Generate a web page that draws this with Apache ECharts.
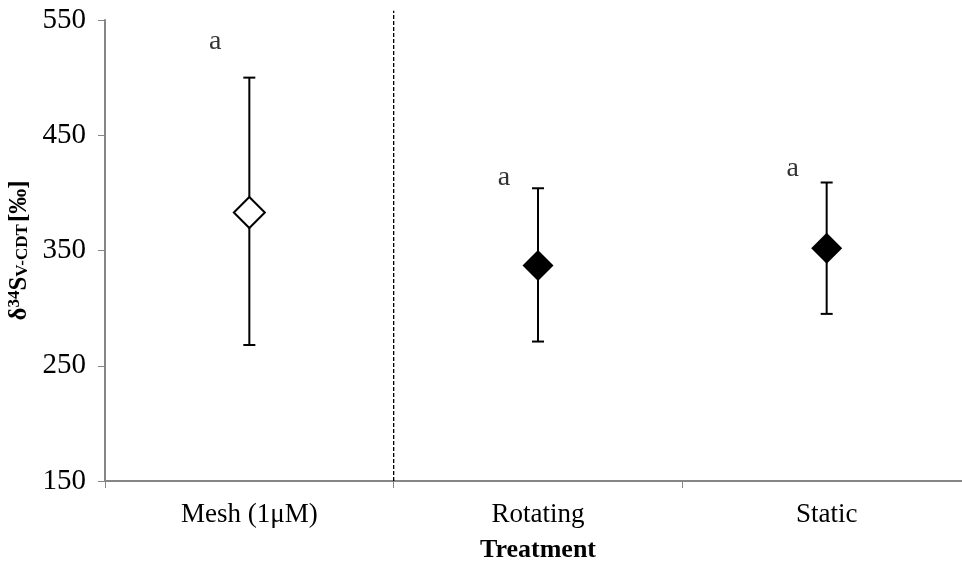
<!DOCTYPE html>
<html><head><meta charset="utf-8">
<script src="https://cdn.jsdelivr.net/npm/echarts@6/dist/echarts.min.js"></script>
<style>html,body{margin:0;padding:0;background:#fff}#c{width:962px;height:567px}</style>
</head><body><div id="c"></div>
<script>
const categories = ['Mesh (1μM)', 'Rotating', 'Static'];
const means = [383, 337, 352];
const upper = [500, 404, 409];
const lower = [268, 271, 295];
const letters = ['a', 'a', 'a'];
const letterY = [531, 413, 421];
const yTicks = [150, 250, 350, 450, 550];

const FONT = '"Liberation Serif", "Times New Roman", serif';

// sparse dotted pattern for the mesh marker
const pc = document.createElement('canvas');
pc.width = 8; pc.height = 8;
const pctx = pc.getContext('2d');
pctx.fillStyle = '#fff'; pctx.fillRect(0, 0, 8, 8);
pctx.fillStyle = '#444';
pctx.fillRect(1, 1, 2, 2);
pctx.fillRect(5, 5, 2, 2);

const chart = echarts.init(document.getElementById('c'), null, {renderer: 'canvas'});

const errData = categories.map((c, i) => [i, lower[i], upper[i]]);

chart.setOption({
  animation: false,
  backgroundColor: '#fff',
  grid: {left: 105, top: 20, width: 866, height: 461, containLabel: false, outerBoundsMode: 'none'},
  xAxis: [{
    type: 'category', data: categories, boundaryGap: true,
    axisLine: {onZero: false, lineStyle: {color: '#868686', width: 2}},
    axisTick: {show: true, length: 7, lineStyle: {color: '#868686', width: 1}},
    axisLabel: {fontFamily: FONT, fontSize: 27, color: '#000', margin: 20},
    name: 'Treatment', nameLocation: 'middle', nameGap: 56,
    nameTextStyle: {fontFamily: FONT, fontSize: 26, fontWeight: 'bold', color: '#000'}
  }, {
    type: 'value', min: -0.5, max: 2.5, show: false
  }],
  yAxis: {
    type: 'value', min: 150, max: 550, interval: 100,
    splitLine: {show: false},
    axisLine: {show: true, onZero: false, lineStyle: {color: '#868686', width: 2}},
    axisTick: {show: true, length: 7, lineStyle: {color: '#868686', width: 1}},
    axisLabel: {fontFamily: FONT, fontSize: 29, color: '#000', margin: 19,
      formatter: v => yTicks.includes(v) ? String(v) : ''},
    name: '{d|δ}{sup|34}{s|S}{sub|V-CDT}{d|[‰]}', nameLocation: 'middle', nameGap: 68,
    nameTextStyle: {
      rich: {
        d: {fontFamily: FONT, fontSize: 25, fontWeight: 'bold', color: '#000'},
        s: {fontFamily: FONT, fontSize: 25, fontWeight: 'bold', color: '#000'},
        sup: {fontFamily: FONT, fontSize: 17, fontWeight: 'bold', color: '#000', verticalAlign: 'top', padding: [0, 0, 8, 0]},
        sub: {fontFamily: FONT, fontSize: 17, fontWeight: 'bold', color: '#000', verticalAlign: 'bottom', padding: [8, 2, 0, 0]}
      }
    }
  },
  series: [
    {
      type: 'line', xAxisIndex: 1, data: [[0.5, 150], [0.5, 558]], symbol: 'none', clip: false,
      lineStyle: {color: '#000', width: 1.3, type: [4, 2]}, silent: true, z: 1
    },
    {
      type: 'custom', data: errData, z: 2,
      renderItem: (params, api) => {
        const x = api.value(0);
        const lo = api.coord([x, api.value(1)]);
        const hi = api.coord([x, api.value(2)]);
        const hw = 6;
        const st = {stroke: '#000', lineWidth: 2};
        return {type: 'group', children: [
          {type: 'line', shape: {x1: lo[0], y1: lo[1], x2: hi[0], y2: hi[1]}, style: st},
          {type: 'line', shape: {x1: lo[0] - hw, y1: lo[1], x2: lo[0] + hw, y2: lo[1]}, style: st},
          {type: 'line', shape: {x1: hi[0] - hw, y1: hi[1], x2: hi[0] + hw, y2: hi[1]}, style: st}
        ]};
      }
    },
    {
      type: 'scatter', symbol: 'diamond', symbolSize: 31, z: 3,
      data: means.map((v, i) => ({
        value: [categories[i], v],
        itemStyle: i === 0
          ? {color: {image: pc, repeat: 'repeat'}, borderColor: '#000', borderWidth: 2, opacity: 1}
          : {color: '#000', opacity: 1}
      }))
    },
    {
      type: 'scatter', symbolSize: 0, z: 4,
      data: letterY.map((v, i) => [categories[i], v]),
      label: {show: true, position: 'inside', offset: [-34, 0],
        formatter: p => letters[p.dataIndex],
        fontFamily: FONT, fontSize: 28, color: '#000'}
    }
  ]
});
</script></body></html>
